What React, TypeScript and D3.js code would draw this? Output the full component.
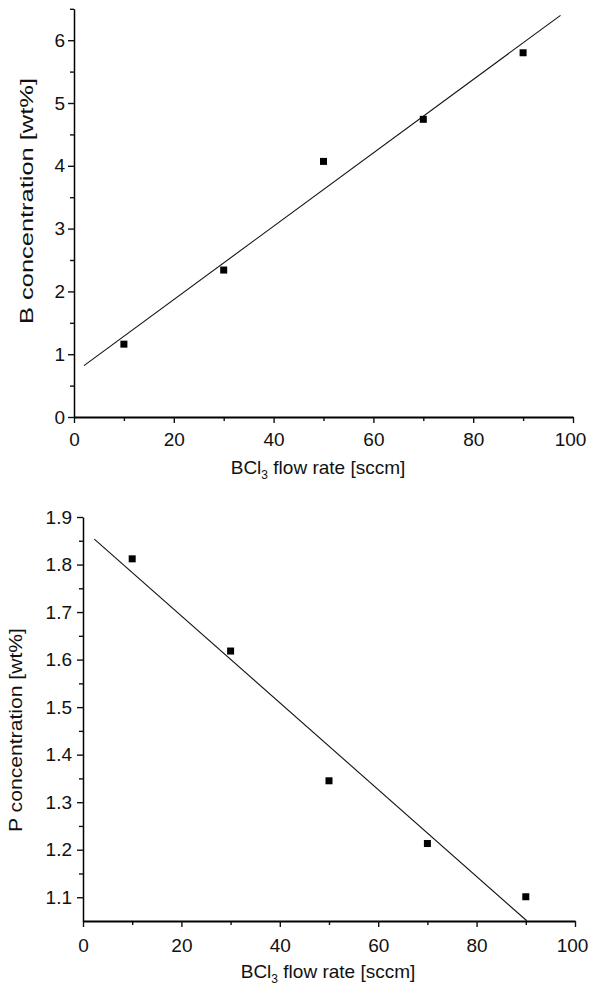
import React, { useEffect, useRef } from 'react';
import * as d3 from 'd3';

// BCl3 flow rate [sccm] of each sample
const flowRates = [10, 30, 50, 70, 90];
// B concentration [wt%]
const boronWt = [1.16, 2.34, 4.07, 4.74, 5.8];
// P concentration [wt%]
const phosWt = [1.812, 1.618, 1.345, 1.213, 1.101];
// x range the fitted lines are drawn over
const boronFitRange = [2, 97.5];
const phosFitRange = [2.3, 90.2];

const xTicks = [0, 20, 40, 60, 80, 100];
const boronTicks = [0, 1, 2, 3, 4, 5, 6];
const phosTicks = [1.1, 1.2, 1.3, 1.4, 1.5, 1.6, 1.7, 1.8, 1.9];

const FONT = '"Liberation Sans", Arial, sans-serif';

const fit = (xs: number[], ys: number[]) => {
  const mx = d3.mean(xs) as number;
  const my = d3.mean(ys) as number;
  const sxy = d3.sum(xs, (x, i) => (x - mx) * (ys[i] - my));
  const sxx = d3.sum(xs, (x) => (x - mx) * (x - mx));
  const slope = sxy / sxx;
  return (x: number) => my + slope * (x - mx);
};

const App = () => {
  const chartRef = useRef<SVGSVGElement>(null);

  useEffect(() => {
    const svg = d3.select(chartRef.current);

    const panels = [
      {
        ys: boronWt,
        fitRange: boronFitRange,
        x: d3.scaleLinear().domain([0, 100]).range([74, 573]),
        y: d3.scaleLinear().domain([0, 6.5]).range([417, 8.8]),
        yTicks: boronTicks,
        yMinor: d3.range(0.5, 6.6, 1),
        yFormat: d3.format('d'),
        xPad: 10,
        yPad: 3,
        titleX: 318,
        titleY: 474,
        yTitle: 'B concentration [wt%]',
        yTitleX: 33,
        yTitleY: 201,
        yTitleLen: 246,
      },
      {
        ys: phosWt,
        fitRange: phosFitRange,
        x: d3.scaleLinear().domain([0, 100]).range([83, 575]),
        y: d3.scaleLinear().domain([1.05, 1.9]).range([921, 517]),
        yTicks: phosTicks,
        yMinor: d3.range(1.15, 1.86, 0.1),
        yFormat: d3.format('.1f'),
        xPad: 12,
        yPad: 5,
        titleX: 328,
        titleY: 978,
        yTitle: 'P concentration [wt%]',
        yTitleX: 22,
        yTitleY: 730,
        yTitleLen: 204,
      },
    ];

    panels.forEach((p) => {
      const g = svg.append('g');
      const y0 = p.y.range()[0];
      const x0 = p.x.range()[0];

      // minor ticks
      g.append('g')
        .attr('transform', `translate(0,${y0})`)
        .call(d3.axisBottom(p.x).tickValues(d3.range(10, 100, 20)).tickSize(4).tickFormat(() => ''))
        .call((a) => a.select('.domain').remove());
      g.append('g')
        .attr('transform', `translate(${x0},0)`)
        .call(d3.axisLeft(p.y).tickValues(p.yMinor).tickSize(4).tickFormat(() => ''))
        .call((a) => a.select('.domain').remove());

      // major axes
      g.append('g')
        .attr('transform', `translate(0,${y0})`)
        .call(d3.axisBottom(p.x).tickValues(xTicks).tickSize(6).tickSizeOuter(0).tickPadding(p.xPad))
        .call((a) => a.select('.domain').attr('stroke-width', 1.8))
        .call((a) => a.selectAll('.tick text').filter((d) => d === 100).attr('dx', -3));
      g.append('g')
        .attr('transform', `translate(${x0},0)`)
        .call(d3.axisLeft(p.y).tickValues(p.yTicks).tickSize(6).tickSizeOuter(0).tickPadding(p.yPad).tickFormat(p.yFormat as any))
        .call((a) => a.select('.domain').attr('stroke-width', 1.5));

      g.selectAll('.tick line').attr('stroke', '#111').attr('stroke-width', 1.4);
      g.selectAll('.tick text').attr('font-family', FONT).attr('font-size', 19).attr('fill', '#111');

      // fitted line
      const f = fit(flowRates, p.ys);
      g.append('path')
        .datum(p.fitRange)
        .attr('fill', 'none')
        .attr('stroke', '#111')
        .attr('stroke-width', 1.1)
        .attr('d', d3.line<number>().x((d) => p.x(d)).y((d) => p.y(f(d))));

      // data points
      g.selectAll('rect.pt')
        .data(flowRates)
        .enter()
        .append('rect')
        .attr('class', 'pt')
        .attr('x', (d) => p.x(d) - 3.5)
        .attr('y', (d, i) => p.y(p.ys[i]) - 3.5)
        .attr('width', 7)
        .attr('height', 7)
        .attr('fill', '#000');

      // x title
      const t = g.append('text')
        .attr('x', p.titleX)
        .attr('y', p.titleY)
        .attr('text-anchor', 'middle')
        .attr('font-family', FONT)
        .attr('font-size', 19)
        .attr('fill', '#111');
      t.append('tspan').text('BCl');
      t.append('tspan').attr('dy', 5).attr('font-size', 12).text('3');
      t.append('tspan').attr('dy', -5).text(' flow rate [sccm]');

      // y title
      g.append('text')
        .attr('transform', `translate(${p.yTitleX},${p.yTitleY}) rotate(-90)`)
        .attr('text-anchor', 'middle')
        .attr('font-family', FONT)
        .attr('font-size', 19)
        .attr('fill', '#111')
        .attr('textLength', p.yTitleLen)
        .attr('lengthAdjust', 'spacingAndGlyphs')
        .text(p.yTitle);
    });

    return () => {
      svg.selectAll('*').remove();
    };
  }, []);

  return (
    <svg
      ref={chartRef}
      width={589}
      height={992}
      style={{ position: 'absolute', left: 0, top: 0, background: '#fff' }}
    />
  );
};

export default App;
